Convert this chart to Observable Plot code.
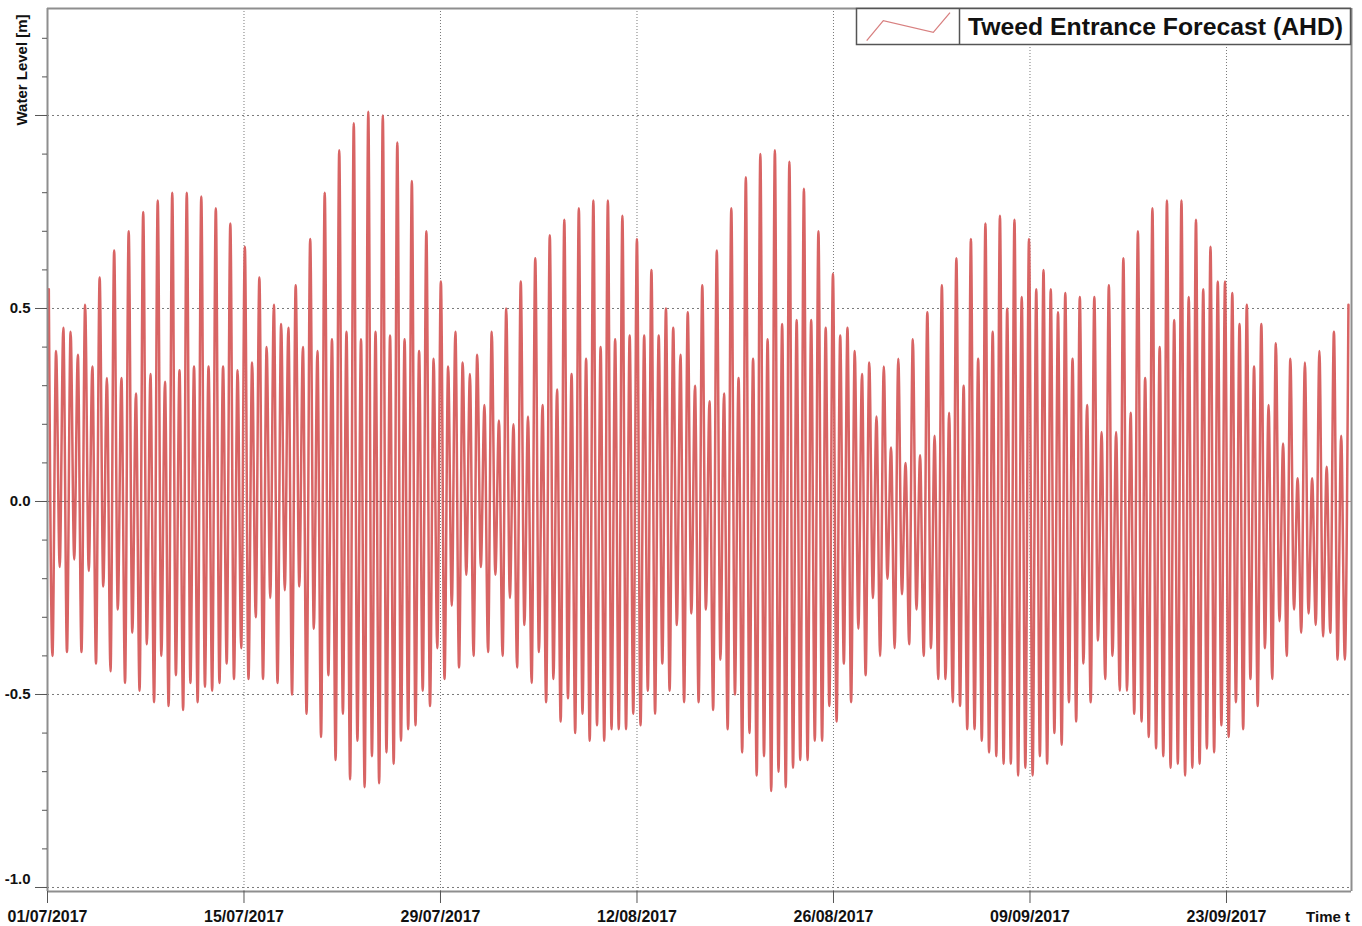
<!DOCTYPE html>
<html>
<head>
<meta charset="utf-8">
<script src="https://cdn.jsdelivr.net/npm/d3@7"></script>
<script src="https://cdn.jsdelivr.net/npm/@observablehq/plot@0.6"></script>
<style>
  html, body { margin: 0; padding: 0; background: #fff; }
  #chart { width: 1362px; height: 926px; }
  svg { font-family: "Liberation Sans", Arial, sans-serif; }
</style>
</head>
<body>
<div id="chart"></div>
<script>
// ---- Data ----
const seriesName = "Tweed Entrance Forecast (AHD)";
const yAxisTitle = "Water Level [m]";
const xAxisTitle = "Time t";
const startTime = "2017-07-01T00:00Z";
const endTime = "2017-10-01T21:45Z";
const firstHighTime = "2017-07-01T02:15Z";
const tidePeriodHours = 12.415;
const xTickDates = ["2017-07-01", "2017-07-15", "2017-07-29", "2017-08-12", "2017-08-26", "2017-09-09", "2017-09-23"];
const yMajorTicks = [-1.0, -0.5, 0.0, 0.5, 1.0];
const yLabelTicks = [-0.5, 0.0, 0.5];
const yMinorTicks = [-1.0,-0.9,-0.8,-0.7,-0.6,-0.5,-0.4,-0.3,-0.2,-0.1,0.0,0.1,0.2,0.3,0.4,0.5,0.6,0.7,0.8,0.9,1.0,1.1,1.2];

// successive high waters (m, AHD)
const highTides = [
  0.55,0.39,0.45,0.44,0.38,0.51,0.35,0.58,0.32,0.65,
  0.32,0.70,0.28,0.75,0.33,0.78,0.31,0.80,0.34,0.80,
  0.35,0.79,0.35,0.76,0.35,0.72,0.34,0.66,0.36,0.58,
  0.40,0.51,0.46,0.45,0.56,0.40,0.68,0.39,0.80,0.42,
  0.91,0.44,0.98,0.42,1.01,0.44,1.00,0.43,0.93,0.42,
  0.83,0.39,0.70,0.37,0.57,0.35,0.44,0.36,0.33,0.38,
  0.25,0.44,0.21,0.50,0.20,0.57,0.22,0.63,0.25,0.69,
  0.29,0.73,0.33,0.76,0.37,0.78,0.40,0.78,0.42,0.74,
  0.43,0.68,0.43,0.60,0.43,0.50,0.45,0.38,0.49,0.30,
  0.56,0.26,0.65,0.28,0.76,0.32,0.84,0.37,0.90,0.42,
  0.91,0.46,0.88,0.47,0.81,0.47,0.70,0.45,0.59,0.43,
  0.45,0.39,0.33,0.36,0.22,0.35,0.14,0.37,0.10,0.42,
  0.12,0.49,0.17,0.56,0.23,0.63,0.30,0.68,0.37,0.72,
  0.44,0.74,0.50,0.73,0.53,0.68,0.55,0.60,0.55,0.49,
  0.54,0.37,0.53,0.25,0.53,0.18,0.56,0.18,0.63,0.23,
  0.70,0.32,0.76,0.40,0.78,0.47,0.78,0.53,0.73,0.55,
  0.66,0.57,0.57,0.54,0.46,0.51,0.35,0.46,0.25,0.41,
  0.15,0.37,0.06,0.36,0.06,0.39,0.09,0.44,0.17,0.51
];
// successive low waters (m, AHD), each following the high of the same index
const lowTides = [
  -0.40,-0.17,-0.39,-0.15,-0.39,-0.18,-0.42,-0.22,-0.44,-0.28,
  -0.47,-0.34,-0.49,-0.37,-0.52,-0.40,-0.53,-0.45,-0.54,-0.47,
  -0.52,-0.48,-0.49,-0.47,-0.42,-0.46,-0.38,-0.46,-0.30,-0.46,
  -0.25,-0.47,-0.23,-0.50,-0.22,-0.55,-0.33,-0.61,-0.45,-0.67,
  -0.55,-0.72,-0.62,-0.74,-0.66,-0.73,-0.65,-0.68,-0.62,-0.59,
  -0.58,-0.49,-0.53,-0.38,-0.46,-0.27,-0.43,-0.19,-0.40,-0.17,
  -0.39,-0.19,-0.40,-0.25,-0.43,-0.32,-0.47,-0.39,-0.52,-0.46,
  -0.57,-0.51,-0.60,-0.55,-0.62,-0.58,-0.62,-0.59,-0.59,-0.59,
  -0.55,-0.58,-0.49,-0.55,-0.42,-0.49,-0.32,-0.52,-0.29,-0.52,
  -0.28,-0.54,-0.41,-0.59,-0.50,-0.65,-0.60,-0.71,-0.66,-0.75,
  -0.70,-0.74,-0.69,-0.67,-0.67,-0.62,-0.62,-0.53,-0.57,-0.42,
  -0.52,-0.33,-0.45,-0.25,-0.40,-0.20,-0.38,-0.24,-0.37,-0.28,
  -0.40,-0.38,-0.46,-0.46,-0.52,-0.53,-0.59,-0.59,-0.62,-0.65,
  -0.66,-0.68,-0.68,-0.71,-0.69,-0.71,-0.66,-0.68,-0.60,-0.63,
  -0.52,-0.57,-0.42,-0.52,-0.36,-0.46,-0.40,-0.49,-0.49,-0.55,
  -0.57,-0.61,-0.64,-0.66,-0.69,-0.68,-0.71,-0.69,-0.68,-0.64,
  -0.65,-0.58,-0.61,-0.52,-0.59,-0.46,-0.53,-0.38,-0.46,-0.31,
  -0.40,-0.28,-0.34,-0.29,-0.32,-0.35,-0.34,-0.41,-0.41
];

// ---- Build the time series (high, low, high, low ...) ----
const t0 = new Date(firstHighTime).getTime();
const periodMs = tidePeriodHours * 3600 * 1000;
const series = [];
highTides.forEach((h, i) => {
  series.push({t: new Date(t0 + i * periodMs), v: h});
  if (i < lowTides.length) series.push({t: new Date(t0 + (i + 0.5) * periodMs), v: lowTides[i]});
});

const start = new Date(startTime), end = new Date(endTime);
const ticks = xTickDates.map(d => new Date(d + "T00:00Z"));
const fmt = d3.utcFormat("%d/%m/%Y");
const yMin = -1.0104, yMax = 1.2772;
const axisGray = "#8e8e8e";
const font = "Liberation Sans, Arial, sans-serif";

const chart = Plot.plot({
  width: 1362,
  height: 926,
  marginLeft: 47,
  marginRight: 11,
  marginTop: 8,
  marginBottom: 35,
  style: {background: "#fff", fontFamily: font, color: "#111"},
  x: {type: "utc", domain: [start, end], label: null},
  y: {domain: [yMin, yMax], label: null},
  marks: [
    Plot.gridY(yMajorTicks, {stroke: "#7a7a7a", strokeOpacity: 1, strokeWidth: 1, strokeDasharray: "2,3"}),
    Plot.gridX(ticks.slice(1), {stroke: "#7a7a7a", strokeOpacity: 1, strokeWidth: 1, strokeDasharray: "1,2"}),
    Plot.line(series, {x: "t", y: "v", curve: "monotone-x", stroke: "#d86464", strokeWidth: 2.5, clip: true}),
    Plot.gridY([0], {stroke: "#8a5050", strokeOpacity: 0.6, strokeWidth: 1, strokeDasharray: "3,3"}),
    Plot.ruleX([start], {stroke: axisGray, strokeWidth: 2}),
    Plot.ruleX([end], {stroke: axisGray, strokeWidth: 2}),
    Plot.ruleY([yMin], {stroke: axisGray, strokeWidth: 2}),
    Plot.ruleY([yMax], {stroke: axisGray, strokeWidth: 2}),
    Plot.axisY(yMinorTicks, {tickSize: 5, tickFormat: () => "", stroke: "#555"}),
    Plot.axisY(yMajorTicks, {tickSize: 12, tickFormat: () => "", stroke: "#555"}),
    Plot.axisY(yLabelTicks, {tickSize: 0, tickPadding: 17, tickFormat: d => d.toFixed(1), fontSize: 15, fontWeight: "bold", fill: "#111"}),
    Plot.axisY([-1.0], {tickSize: 0, tickPadding: 17, tickFormat: d => d.toFixed(1), fontSize: 15, fontWeight: "bold", fill: "#111", dy: -8}),
    Plot.axisX(ticks, {tickSize: 12, tickPadding: 7, tickFormat: fmt, fontSize: 16, fontWeight: "bold", fill: "#111", stroke: "#555"})
  ]
});

document.getElementById("chart").appendChild(chart);

// ---- Decorations: legend box, axis titles ----
const svg = d3.select(chart);
// condense the date labels like the reference
svg.selectAll("text").each(function() {
  const s = this.textContent;
  if (/^\d\d\/\d\d\/\d{4}$/.test(s)) {
    d3.select(this).attr("textLength", 80).attr("lengthAdjust", "spacingAndGlyphs");
  }
});

const lg = svg.append("g").attr("text-anchor", "start");
lg.append("rect").attr("x", 856.5).attr("y", 8.5).attr("width", 494).attr("height", 36)
  .attr("fill", "#fff").attr("stroke", "#555").attr("stroke-width", 1.5);
lg.append("line").attr("x1", 959.5).attr("x2", 959.5).attr("y1", 8.5).attr("y2", 44.5)
  .attr("stroke", "#555").attr("stroke-width", 1.5);
lg.append("polyline").attr("points", "866.7,40.7 883.3,20.7 933.3,32.3 950,12.7")
  .attr("fill", "none").attr("stroke", "#d88080").attr("stroke-width", 1.3);
lg.append("text").attr("x", 968).attr("y", 35).attr("text-anchor", "start").text(seriesName)
  .attr("font-family", font).attr("font-weight", "bold").attr("font-size", 23).attr("fill", "#111")
  .attr("textLength", 375).attr("lengthAdjust", "spacingAndGlyphs");

svg.append("text").attr("transform", "translate(27,70) rotate(-90)").attr("text-anchor", "middle")
  .attr("font-family", font).attr("font-weight", "bold").attr("font-size", 15).attr("fill", "#111")
  .text(yAxisTitle);

svg.append("text").attr("x", 1350).attr("y", 922).attr("text-anchor", "end")
  .attr("font-family", font).attr("font-weight", "bold").attr("font-size", 15).attr("fill", "#111")
  .text(xAxisTitle);
</script>
</body>
</html>
